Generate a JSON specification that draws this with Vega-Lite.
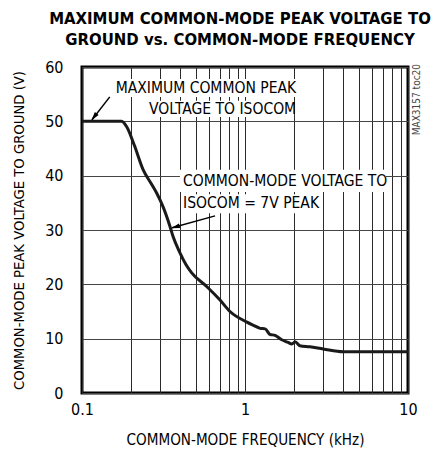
{
  "$schema": "https://vega.github.io/schema/vega-lite/v6.json",
  "width": 326,
  "height": 326,
  "autosize": {"type": "none"},
  "padding": {"left": 82, "top": 67, "right": 40, "bottom": 62},
  "background": "white",
  "title": {
    "text": ["MAXIMUM COMMON-MODE PEAK VOLTAGE TO", "GROUND vs. COMMON-MODE FREQUENCY"],
    "font": "Liberation Sans Narrow, DejaVu Sans Condensed, sans-serif",
    "fontSize": 16.6,
    "fontWeight": "bold",
    "lineHeight": 21,
    "anchor": "middle",
    "dx": -5,
    "offset": 10,
    "color": "black"
  },
  "config": {
    "view": {"stroke": "black", "strokeWidth": 3},
    "font": "Liberation Sans Narrow, DejaVu Sans Condensed, sans-serif"
  },
  "datasets": {
    "curve": [
      {"f": 0.1, "v": 50},
      {"f": 0.14, "v": 50},
      {"f": 0.175, "v": 50},
      {"f": 0.188, "v": 49.0},
      {"f": 0.21, "v": 45.5},
      {"f": 0.237, "v": 41.1},
      {"f": 0.265, "v": 38.6},
      {"f": 0.287, "v": 36.8},
      {"f": 0.314, "v": 34.3},
      {"f": 0.347, "v": 30.6},
      {"f": 0.362, "v": 28.8},
      {"f": 0.399, "v": 25.8},
      {"f": 0.435, "v": 23.6},
      {"f": 0.471, "v": 22.1},
      {"f": 0.582, "v": 19.6},
      {"f": 0.703, "v": 17.1},
      {"f": 0.809, "v": 15.0},
      {"f": 1.02, "v": 13.1},
      {"f": 1.12, "v": 12.5},
      {"f": 1.24, "v": 11.9},
      {"f": 1.33, "v": 11.8},
      {"f": 1.42, "v": 10.8},
      {"f": 1.53, "v": 10.6},
      {"f": 1.68, "v": 9.8},
      {"f": 1.84, "v": 9.3},
      {"f": 1.94, "v": 9.0},
      {"f": 2.03, "v": 9.45},
      {"f": 2.17, "v": 8.7},
      {"f": 2.5, "v": 8.5},
      {"f": 3.02, "v": 8.1},
      {"f": 4.01, "v": 7.6},
      {"f": 10, "v": 7.6}
    ],
    "boxes": [
      {"f": 0.153, "f2": 2.11, "v": 57.8, "v2": 54.5},
      {"f": 0.25, "f2": 2.0, "v": 53.8, "v2": 50.8},
      {"f": 0.399, "f2": 7.33, "v": 41.1, "v2": 37.0},
      {"f": 0.417, "f2": 2.73, "v": 36.6, "v2": 33.1}
    ],
    "arrows": [
      {"f": 0.148, "v": 54.5, "f2": 0.1152, "v2": 50.3},
      {"f": 0.655, "v": 32.6, "f2": 0.357, "v2": 30.4}
    ],
    "heads": [
      {"f": 0.1193, "v": 50.9, "ang": 218},
      {"f": 0.3775, "v": 30.6, "ang": 254}
    ],
    "labelsRight": [
      {"f": 2.06, "v": 56.2, "t": "MAXIMUM COMMON PEAK"},
      {"f": 2.06, "v": 52.3, "t": "VOLTAGE TO ISOCOM"}
    ],
    "labelsLeft": [
      {"f": 0.417, "v": 39.0, "t": "COMMON-MODE VOLTAGE TO"},
      {"f": 0.417, "v": 35.0, "t": "ISOCOM = 7V PEAK"}
    ],
    "side": [
      {"f": 11.4, "v": 54.0, "t": "MAX3157 toc20"}
    ]
  },
  "encoding": {
    "x": {
      "field": "f", "type": "quantitative",
      "scale": {"type": "log", "domain": [0.1, 10], "nice": false},
      "axis": {
        "values": [0.1, 0.2, 0.3, 0.4, 0.5, 0.6, 0.7, 0.8, 0.9, 1, 2, 3, 4, 5, 6, 7, 8, 9, 10],
        "labelExpr": "datum.value == 0.1 ? '0.1' : (datum.value == 1 ? '1' : (datum.value == 10 ? '10' : ''))",
        "grid": true, "gridColor": "#2a2a2a", "gridWidth": 1, "gridOpacity": 1,
        "ticks": false, "domain": false,
        "labelFontSize": 16, "labelColor": "black", "labelPadding": 8,
        "labelOverlap": false, "labelFlush": false, "labelBound": false,
        "title": "COMMON-MODE FREQUENCY (kHz)",
        "titleFontSize": 15.1, "titleFontWeight": "normal", "titleColor": "black", "titlePadding": 15
      }
    },
    "y": {
      "field": "v", "type": "quantitative",
      "scale": {"domain": [0, 60], "nice": false, "zero": false},
      "axis": {
        "values": [0, 10, 20, 30, 40, 50, 60],
        "grid": true, "gridColor": "#444", "gridWidth": 1, "gridOpacity": 1,
        "ticks": false, "domain": false,
        "labelFontSize": 16, "labelColor": "black", "labelPadding": 19,
        "labelOverlap": false, "labelFlush": false, "labelBound": false,
        "title": "COMMON-MODE PEAK VOLTAGE TO GROUND (V)",
        "titleFontSize": 14.7, "titleFontWeight": "normal", "titleColor": "black", "titlePadding": 18
      }
    }
  },
  "layer": [
    {
      "data": {"name": "boxes"},
      "mark": {"type": "rect", "fill": "white"},
      "encoding": {
        "x2": {"field": "f2"},
        "y2": {"field": "v2"}
      }
    },
    {
      "data": {"name": "curve"},
      "mark": {"type": "line", "color": "#1a1a1a", "strokeWidth": 3, "interpolate": "monotone"}
    },
    {
      "data": {"name": "arrows"},
      "mark": {"type": "rule", "color": "black", "strokeWidth": 1.5},
      "encoding": {
        "x2": {"field": "f2"},
        "y2": {"field": "v2"}
      }
    },
    {
      "data": {"name": "heads"},
      "mark": {"type": "point", "shape": "M0,-1L0.45,0.7L-0.45,0.7Z", "filled": true, "color": "black", "opacity": 1, "size": 110},
      "encoding": {
        "angle": {"field": "ang", "type": "quantitative", "scale": null}
      }
    },
    {
      "data": {"name": "labelsRight"},
      "mark": {"type": "text", "fontSize": 15.5, "color": "black", "baseline": "middle", "align": "right"},
      "encoding": {
        "text": {"field": "t"}
      }
    },
    {
      "data": {"name": "labelsLeft"},
      "mark": {"type": "text", "fontSize": 15.5, "color": "black", "baseline": "middle", "align": "left"},
      "encoding": {
        "text": {"field": "t"}
      }
    },
    {
      "data": {"name": "side"},
      "mark": {"type": "text", "fontSize": 10, "color": "#444", "angle": 270, "align": "center", "baseline": "middle"},
      "encoding": {
        "text": {"field": "t"}
      }
    }
  ]
}
